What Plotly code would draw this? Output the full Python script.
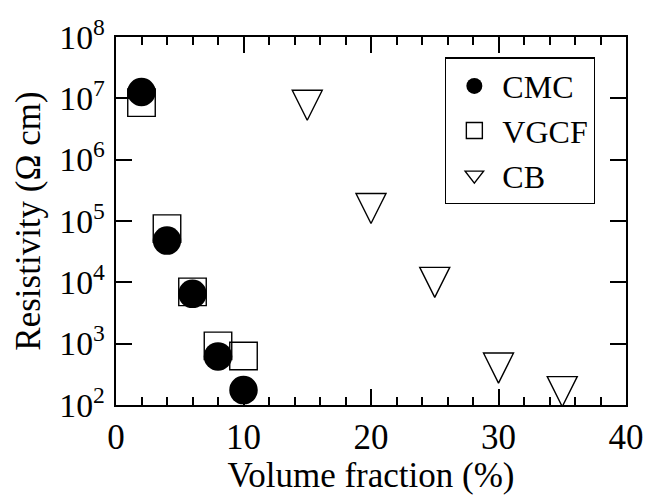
import plotly.graph_objects as go

# Data
cmc_x = [2, 4, 6, 8, 10]
cmc_y = [1.27e7, 4.8e4, 6.5e3, 620, 175]

vgcf_x = [2, 4, 6, 8, 10]
vgcf_y = [8.5e6, 7.5e4, 7.0e3, 920, 630]

cb_x = [15, 20, 25, 30, 35]
cb_y = [7.7e6, 1.6e5, 1.0e4, 400, 165]

FONT = "Liberation Serif"

fig = go.Figure()

# VGCF drawn first so the CMC circles sit on top
fig.add_trace(go.Scatter(
    x=vgcf_x, y=vgcf_y, mode="markers", name="VGCF", legendrank=2,
    marker=dict(symbol="square-open", size=27.5, color="black",
                line=dict(width=1.4, color="black")),
))
fig.add_trace(go.Scatter(
    x=cmc_x, y=cmc_y, mode="markers", name="CMC", legendrank=1,
    marker=dict(symbol="circle", size=28.5, color="black",
                line=dict(width=0)),
))
# CB points: equilateral-ish down triangles centred on the data point
fig.add_trace(go.Scatter(
    x=cb_x, y=cb_y, mode="markers", name="CB", showlegend=False,
    marker=dict(symbol="arrow-down-open", size=30, standoff=15, color="black",
                line=dict(width=1.4, color="black")),
))
# legend entry for CB (no data drawn)
fig.add_trace(go.Scatter(
    x=[None], y=[None], mode="markers", name="CB", legendrank=3,
    marker=dict(symbol="triangle-down-open", size=16, color="black",
                line=dict(width=1.4, color="black")),
))

fig.update_layout(
    width=656, height=495,
    margin=dict(l=116, r=18, t=37, b=84),
    paper_bgcolor="white", plot_bgcolor="white",
    font=dict(family=FONT, color="black", size=32),
    showlegend=True,
    legend=dict(
        x=0.645, y=0.945, xanchor="left", yanchor="top",
        bordercolor="black", borderwidth=1.4, bgcolor="white",
        font=dict(family=FONT, size=32, color="black"),
        itemwidth=46,
    ),
)

fig.update_xaxes(
    range=[0, 40], dtick=10, tick0=0,
    showline=True, linecolor="black", linewidth=1.5, mirror="ticks",
    ticks="inside", ticklen=16, tickwidth=1.5, tickcolor="black",
    minor=dict(dtick=2, ticks="inside", ticklen=8, tickwidth=1.5, tickcolor="black"),
    showgrid=False, zeroline=False,
    tickfont=dict(family=FONT, size=35, color="black"),
    title=dict(text="Volume fraction (%)", font=dict(family=FONT, size=35, color="black"), standoff=2),
)

fig.update_yaxes(
    type="log", range=[2, 8], dtick=1,
    exponentformat="power",
    showline=True, linecolor="black", linewidth=1.5, mirror="ticks",
    ticks="inside", ticklen=16, tickwidth=1.5, tickcolor="black",
    showgrid=False, zeroline=False,
    tickfont=dict(family=FONT, size=27, color="black"),
    ticklabelstandoff=4,
    title=dict(text="Resistivity (Ω cm)", font=dict(family=FONT, size=35, color="black"), standoff=8),
)

fig.write_html("out.html")
